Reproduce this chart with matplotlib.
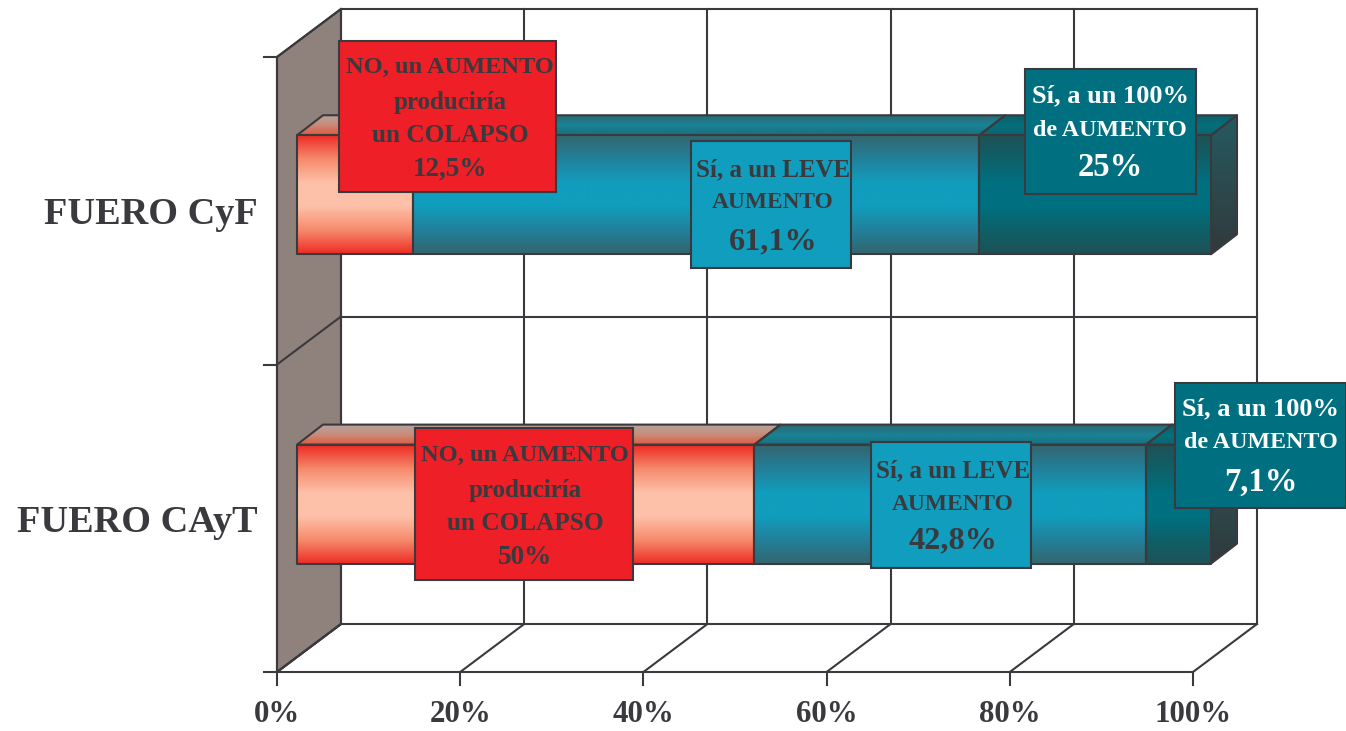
import numpy as np
import matplotlib
matplotlib.use("Agg")
import matplotlib.pyplot as plt
from matplotlib.colors import LinearSegmentedColormap as LSC
from matplotlib.patches import Polygon, Rectangle

plt.rcParams['font.family'] = ['Liberation Serif', 'DejaVu Serif']

# ---- data ----
categories = ["FUERO CAyT", "FUERO CyF"]
no_colapso = [50.0, 12.5]
leve = [42.8, 61.1]
cien = [7.1, 25.0]
x_ticks = [0, 20, 40, 60, 80, 100]
tick_labels = ["0%", "20%", "40%", "60%", "80%", "100%"]
labels_cyf = [["NO, un AUMENTO", "producir\u00eda", "un COLAPSO", "12,5%"],
              ["S\u00ed, a un LEVE", "AUMENTO", "61,1%"],
              ["S\u00ed, a un 100%", "de AUMENTO", "25%"]]
labels_cayt = [["NO, un AUMENTO", "producir\u00eda", "un COLAPSO", "50%"],
               ["S\u00ed, a un LEVE", "AUMENTO", "42,8%"],
               ["S\u00ed, a un 100%", "de AUMENTO", "7,1%"]]

# ---- layout (pixels of the 1346x731 canvas) ----
W, H = 1346, 731
X0, X100, Y0, YUNIT = 277, 1193, 672, 307.5
PXX = (X100 - X0) / 100
DX, DY = 64 / PXX, 48 / YUNIT          # depth of the 3-D box
BAR_DX, BAR_DY = 26 / PXX, 20 / YUNIT  # depth of a bar
BAR_X0, BAR_SPAN = 20 / PXX, 914 / PXX
BAR_H = 119 / YUNIT
BAR_C = [0.546, 1.552 - 1]
DARK = "#3a3a3e"
LW = 1.5

fig = plt.figure(figsize=(W / 100, H / 100), dpi=100, facecolor="white")
ax = fig.add_axes([0, 0, 1, 1])
ax.set_xlim(-X0 / PXX, (W - X0) / PXX)
ax.set_ylim((Y0 - H) / YUNIT, Y0 / YUNIT)
ax.axis("off")


def px(x, y):
    return (x - X0) / PXX, (Y0 - y) / YUNIT


def line(xs, ys, z=2):
    ax.plot(xs, ys, color=DARK, lw=LW, zorder=z, solid_capstyle="projecting")


n = len(categories)
# side wall
ax.add_patch(Polygon([(0, 0), (0, n), (DX, n + DY), (DX, DY)], fc="#8f817c", ec=DARK, lw=LW, zorder=1))
# grid, floor, ticks
for t in x_ticks:
    line([t + DX, t + DX], [DY, n + DY])
    line([t, t + DX], [0, DY])
    line([t, t], [0, -13 / YUNIT])
for c in range(n + 1):
    line([DX, 100 + DX], [c + DY, c + DY])
    line([0, DX], [c, c + DY])
    line([-13 / PXX, 0], [c, c])
line([0, 100], [0, 0])
line([0, 0], [0, n])

# gradients
red_f = LSC.from_list("rf", ["#ee2b24", "#f68a6c", "#fdc0a8", "#fdc0a8", "#f68a6c", "#ee2b24"])
red_t = LSC.from_list("rt", ["#b8a49c", "#c98a78", "#e0593f"])
mid_f = LSC.from_list("mf", ["#33666e", "#22809a", "#119dbd", "#119dbd", "#22809a", "#33666e"])
mid_t = LSC.from_list("mt", ["#2a6a72", "#1a8296", "#1a6f7c"])
drk_f = LSC.from_list("df", ["#1f5256", "#0e6068", "#007080", "#007080", "#0e6068", "#1f5256"])
drk_t = LSC.from_list("dt", ["#0c5f68", "#056f7c", "#0a6570"])
side = LSC.from_list("s", ["#245a60", "#2c4a4e", "#303a3c"])
grad = np.linspace(0, 1, 256).reshape(-1, 1)


def fill(cmap, x0, x1, y0, y1, poly, z):
    im = ax.imshow(grad, cmap=cmap, extent=(x0, x1, y0, y1), aspect="auto", origin="upper",
                   zorder=z, interpolation="bilinear")
    p = Polygon(poly, fc="none", ec=DARK, lw=LW, zorder=z + 0.1, joinstyle="round")
    ax.add_patch(p)
    im.set_clip_path(p)


series = [(no_colapso, red_f, red_t), (leve, mid_f, mid_t), (cien, drk_f, drk_t)]
for i in range(n):
    total = no_colapso[i] + leve[i] + cien[i]
    left = BAR_X0
    yb, yt = i + BAR_C[i] - BAR_H / 2, i + BAR_C[i] + BAR_H / 2
    for vals, fcm, tcm in series:
        w = vals[i] / total * BAR_SPAN
        fill(tcm, left, left + w + BAR_DX, yt, yt + BAR_DY,
             [(left, yt), (left + BAR_DX, yt + BAR_DY), (left + w + BAR_DX, yt + BAR_DY), (left + w, yt)], 3)
        fill(fcm, left, left + w, yb, yt, [(left, yb), (left, yt), (left + w, yt), (left + w, yb)], 4)
        left += w
    fill(side, left, left + BAR_DX, yb, yt + BAR_DY,
         [(left, yb), (left, yt), (left + BAR_DX, yt + BAR_DY), (left + BAR_DX, yb + BAR_DY)], 3)

ax.set_xlim(-X0 / PXX, (W - X0) / PXX)
ax.set_ylim((Y0 - H) / YUNIT, Y0 / YUNIT)

# axis labels
for t, s in zip(x_ticks, tick_labels):
    ax.text(t, px(0, 714)[1], s, ha="center", va="center", fontsize=22.3, fontweight="bold", color=DARK)
cat_pos = [(258, 522), (258, 214)]
for (x, y), s in zip(cat_pos, categories):
    xd, yd = px(x, y)
    ax.text(xd, yd, s, ha="right", va="center", fontsize=27.5, fontweight="bold", color=DARK)

# callout boxes: rectangle, fill, text colour, line centres, line sizes, text centre
RED, BLUE, TEAL = "#ee1f26", "#119dbd", "#007080"
boxes = [
    (labels_cyf[0], (339, 41, 556, 192), RED, DARK, [67, 103, 136, 169], [17.6, 18, 18.2, 19.6], 450),
    (labels_cyf[1], (691, 141, 851, 268), BLUE, DARK, [170, 203, 242], [18, 16.8, 23.2], 773),
    (labels_cyf[2], (1025, 69, 1196, 194), TEAL, "white", [96, 130, 168], [19, 17.3, 23.5], 1110),
    (labels_cayt[0], (415, 428, 633, 580), RED, DARK, [455, 491, 524, 558], [17.6, 18, 18.2, 19.6], 525),
    (labels_cayt[1], (871, 442, 1031, 568), BLUE, DARK, [471, 504, 541], [18, 16.8, 23.2], 953),
    (labels_cayt[2], (1175, 383, 1346, 508), TEAL, "white", [409, 443, 482], [19, 17.3, 23.5], 1261),
]
for lines_, (x0, y0, x1, y1), fc, tc, ys, sizes, xc in boxes:
    xa, ya = px(x0, y1)
    xb, yb = px(x1, y0)
    ax.add_patch(Rectangle((xa, ya), xb - xa, yb - ya, fc=fc, ec=DARK, lw=LW, zorder=6, clip_on=False))
    for s, y, fs in zip(lines_, ys, sizes):
        ax.text(px(xc, 0)[0], px(0, y)[1], s, ha="center", va="center", fontsize=fs,
                fontweight="bold", color=tc, zorder=7)

fig.savefig("out.png", dpi=100)
